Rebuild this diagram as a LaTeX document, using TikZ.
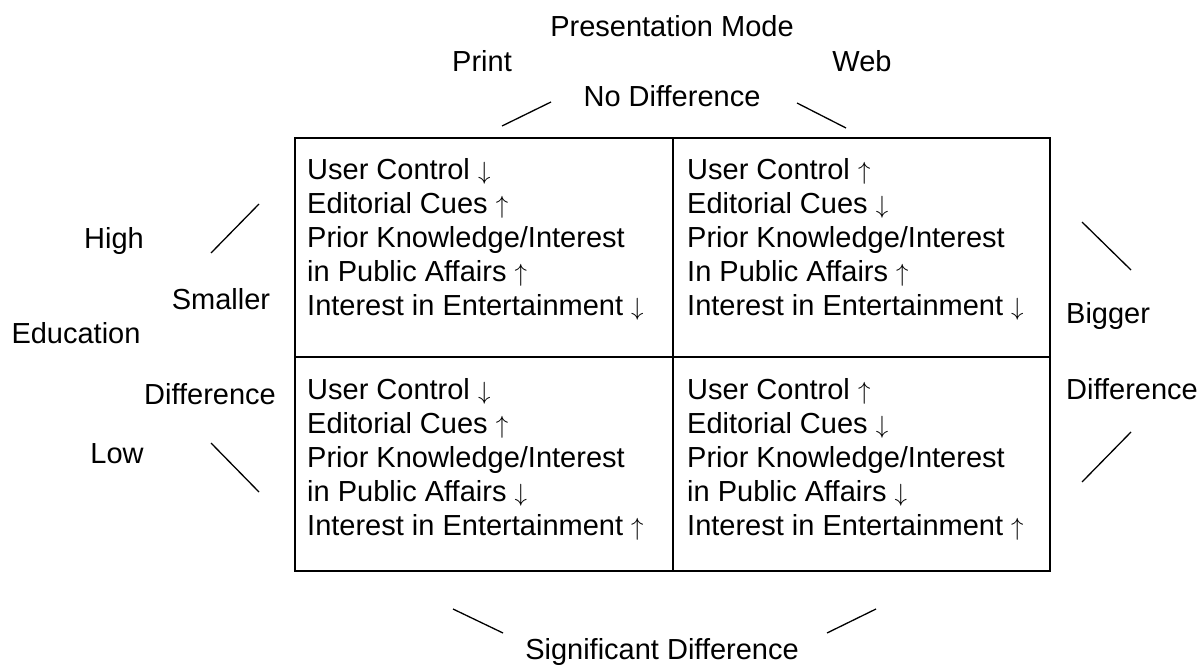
\documentclass[tikz,border=0pt]{standalone}
\usepackage{fontspec}
\setmainfont{Liberation Sans}
\newcommand\myup{$\uparrow$}
\newcommand\mydn{$\downarrow$}
\begin{document}
\begin{tikzpicture}[x=1pt,y=-1pt,
  lbl/.style={font=\fontsize{29}{34}\selectfont, inner sep=0pt, anchor=base},
  lblw/.style={font=\fontsize{29}{34}\selectfont, inner sep=0pt, anchor=base west},
  celltext/.style={font=\fontsize{29}{34}\selectfont, inner sep=0pt, align=left, anchor=base west},
  tick/.style={line width=1.3pt},
  gridline/.style={line width=2pt}]
\useasboundingbox (0,0) rectangle (1204,666);
% grid
\draw[gridline] (295,138) rectangle (1050,571);
\draw[gridline] (673,138) -- (673,571);
\draw[gridline] (295,357) -- (1050,357);
% cells (anchor = baseline of last line)
\node[celltext] (c11) at (307,315) {User Control \mydn\\Editorial Cues \myup\\Prior Knowledge/Interest\\in Public Affairs \myup\\Interest in Entertainment \mydn};
\node[celltext] (c12) at (687,315) {User Control \myup\\Editorial Cues \mydn\\Prior Knowledge/Interest\\In Public Affairs \myup\\Interest in Entertainment \mydn};
\node[celltext] (c21) at (307,535) {User Control \mydn\\Editorial Cues \myup\\Prior Knowledge/Interest\\in Public Affairs \mydn\\Interest in Entertainment \myup};
\node[celltext] (c22) at (687,535) {User Control \myup\\Editorial Cues \mydn\\Prior Knowledge/Interest\\in Public Affairs \mydn\\Interest in Entertainment \myup};
% top labels
\node[lbl] (pm) at (672,37) {Presentation Mode};
\node[lbl] (print) at (482,72) {Print};
\node[lbl] (web) at (862,72) {Web};
\node[lbl] (nodiff) at (672,107) {No Difference};
\coordinate (t1a) at (502,126); \coordinate (t1b) at (551,102);
\coordinate (t2a) at (797,103); \coordinate (t2b) at (846,128);
\draw[tick] (t1a) -- (t1b);
\draw[tick] (t2a) -- (t2b);
% left labels
\node[lbl] (high) at (114,248) {High};
\node[lbl] (smaller) at (221,309) {Smaller};
\node[lbl] (edu) at (76,343) {Education};
\node[lbl] (ldiff) at (210,404) {Difference};
\node[lbl] (low) at (117,463) {Low};
\coordinate (l1a) at (211,253); \coordinate (l1b) at (259,204);
\coordinate (l2a) at (211,443); \coordinate (l2b) at (259,492);
\draw[tick] (l1a) -- (l1b);
\draw[tick] (l2a) -- (l2b);
% right labels
\node[lblw] (bigger) at (1066,323) {Bigger};
\node[lblw] (rdiff) at (1066,399) {Difference};
\coordinate (r1a) at (1082,222); \coordinate (r1b) at (1131,270);
\coordinate (r2a) at (1082,482); \coordinate (r2b) at (1131,432);
\draw[tick] (r1a) -- (r1b);
\draw[tick] (r2a) -- (r2b);
% bottom
\node[lbl] (sig) at (662,659) {Significant Difference};
\coordinate (b1a) at (453,609); \coordinate (b1b) at (503,633);
\coordinate (b2a) at (827,633); \coordinate (b2b) at (876,609);
\draw[tick] (b1a) -- (b1b);
\draw[tick] (b2a) -- (b2b);
\end{tikzpicture}
\end{document}
